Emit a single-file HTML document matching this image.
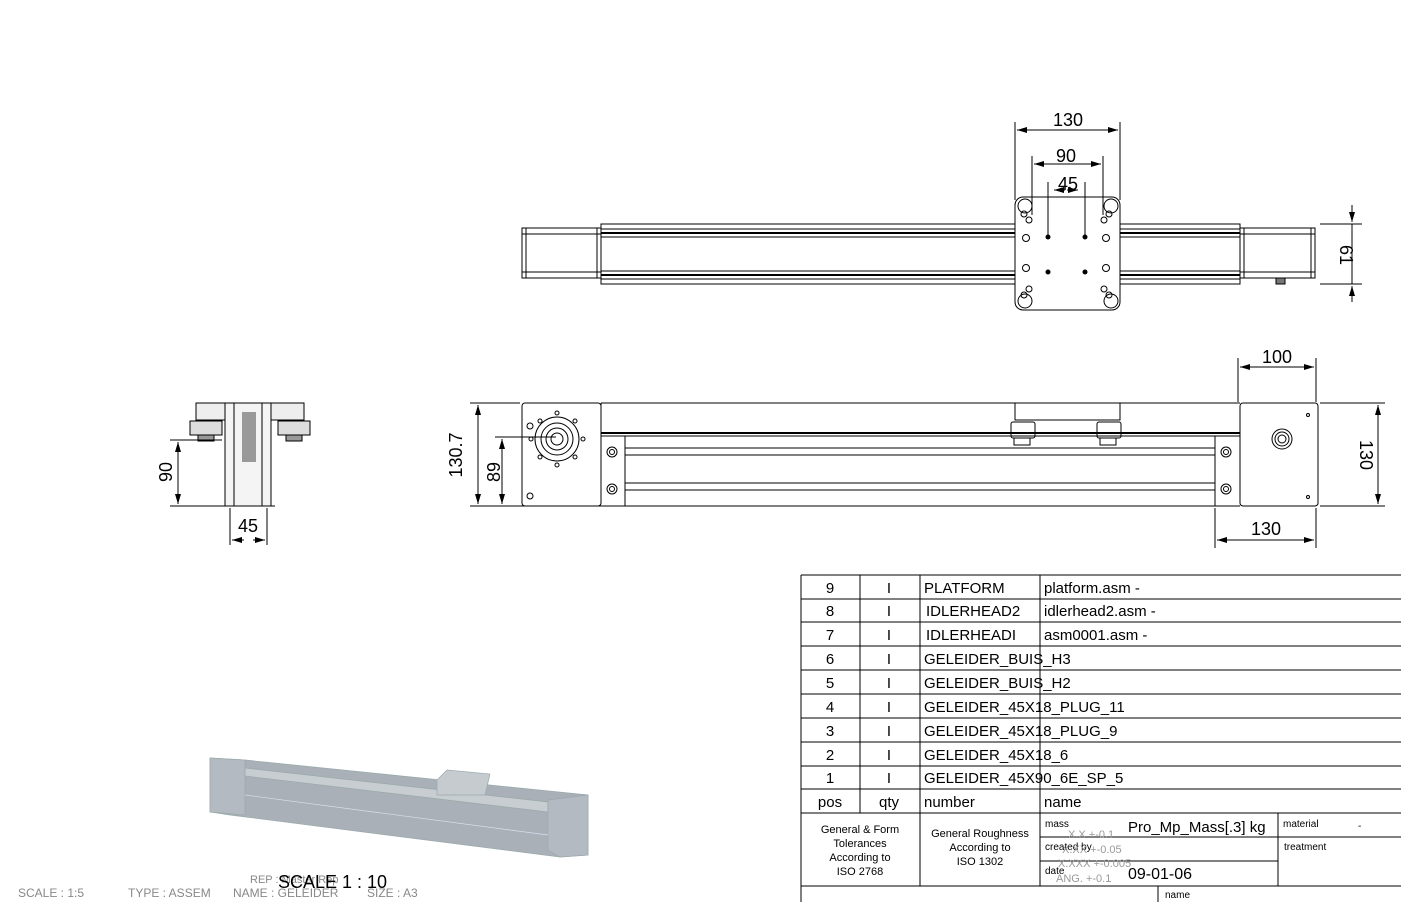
<!DOCTYPE html>
<html><head><meta charset="utf-8"><style>
html,body{margin:0;padding:0;background:#fff;}
svg{display:block;}
text{font-family:"Liberation Sans",sans-serif;}
</style></head><body>
<svg width="1401" height="902" viewBox="0 0 1401 902" xmlns="http://www.w3.org/2000/svg">
<defs>
<marker id="a" viewBox="0 0 10 6" refX="10" refY="3" markerWidth="10" markerHeight="6" orient="auto-start-reverse"><path d="M0,0 L10,3 L0,6z" fill="#000"/></marker>
</defs>
<g stroke="#000" fill="none" stroke-width="1">
<!-- TOP VIEW -->
<rect x="522" y="228" width="79" height="50"/>
<line x1="526" y1="228" x2="526" y2="278"/><line x1="597" y1="228" x2="597" y2="278"/>
<line x1="522" y1="234" x2="601" y2="234"/><line x1="522" y1="272" x2="601" y2="272"/>
<rect x="601" y="224" width="639" height="60"/>
<line x1="601" y1="229" x2="1240" y2="229"/><line x1="601" y1="233" x2="1240" y2="233" stroke-width="2"/>
<line x1="601" y1="237" x2="1240" y2="237"/>
<line x1="601" y1="271" x2="1240" y2="271"/><line x1="601" y1="275" x2="1240" y2="275" stroke-width="2"/>
<line x1="601" y1="279" x2="1240" y2="279"/>
<rect x="1240" y="228" width="75" height="50"/>
<line x1="1244" y1="228" x2="1244" y2="278"/><line x1="1311" y1="228" x2="1311" y2="278"/>
<line x1="1240" y1="234" x2="1315" y2="234"/><line x1="1240" y1="272" x2="1315" y2="272"/>
<rect x="1276" y="278" width="9" height="6" fill="#777"/>
<rect x="1015" y="197" width="105" height="113" fill="#fff" rx="8"/>
<circle cx="1025" cy="206" r="7"/><circle cx="1111" cy="206" r="7"/><circle cx="1025" cy="301" r="7"/><circle cx="1111" cy="301" r="7"/>
<g stroke-width="1">
<circle cx="1024" cy="214" r="3"/><circle cx="1029" cy="220" r="3"/><circle cx="1109" cy="214" r="3"/><circle cx="1104" cy="220" r="3"/>
<circle cx="1026" cy="238" r="3.5"/><circle cx="1106" cy="238" r="3.5"/><circle cx="1026" cy="268" r="3.5"/><circle cx="1106" cy="268" r="3.5"/>
<circle cx="1024" cy="295" r="3"/><circle cx="1029" cy="289" r="3"/><circle cx="1109" cy="295" r="3"/><circle cx="1104" cy="289" r="3"/>
</g>
<g fill="#000"><circle cx="1048" cy="237" r="2"/><circle cx="1085" cy="237" r="2"/><circle cx="1048" cy="272" r="2"/><circle cx="1085" cy="272" r="2"/></g>
<!-- top dims -->
<line x1="1015" y1="122" x2="1015" y2="200"/><line x1="1120" y1="122" x2="1120" y2="200"/>
<line x1="1017" y1="130" x2="1118" y2="130" marker-start="url(#a)" marker-end="url(#a)"/>
<line x1="1032" y1="156" x2="1032" y2="215"/><line x1="1103" y1="156" x2="1103" y2="215"/>
<line x1="1034" y1="164" x2="1101" y2="164" marker-start="url(#a)" marker-end="url(#a)"/>
<line x1="1048" y1="182" x2="1048" y2="235"/><line x1="1085" y1="182" x2="1085" y2="235"/>
<line x1="1055" y1="190" x2="1066" y2="190" marker-end="url(#a)" transform="rotate(180 1060 190)"/>
<line x1="1067" y1="190" x2="1078" y2="190" marker-end="url(#a)"/>
<line x1="1320" y1="224" x2="1362" y2="224"/><line x1="1320" y1="284" x2="1362" y2="284"/>
<line x1="1352" y1="205" x2="1352" y2="222" marker-end="url(#a)"/>
<line x1="1352" y1="302" x2="1352" y2="286" marker-end="url(#a)"/>
<line x1="1352" y1="224" x2="1352" y2="284"/>

<!-- FRONT VIEW -->
<rect x="522" y="403" width="79" height="103" rx="3"/>
<line x1="601" y1="403" x2="1240" y2="403"/>
<line x1="601" y1="433" x2="1240" y2="433" stroke-width="2"/>
<line x1="601" y1="436" x2="1240" y2="436"/>
<line x1="601" y1="403" x2="601" y2="436"/>
<rect x="625" y="436" width="590" height="70"/>
<line x1="625" y1="448" x2="1215" y2="448"/><line x1="625" y1="455" x2="1215" y2="455"/>
<line x1="625" y1="483" x2="1215" y2="483"/><line x1="625" y1="490" x2="1215" y2="490"/>
<line x1="601" y1="506" x2="625" y2="506"/>
<rect x="1240" y="403" width="78" height="103" rx="3"/>
<line x1="1215" y1="506" x2="1240" y2="506"/>
<rect x="1015" y="403" width="105" height="17"/>
<rect x="1011" y="422" width="24" height="16" rx="2"/><rect x="1014" y="438" width="16" height="7"/>
<rect x="1097" y="422" width="24" height="16" rx="2"/><rect x="1100" y="438" width="16" height="7"/>
<circle cx="557" cy="439" r="22"/><circle cx="557" cy="439" r="16"/><circle cx="557" cy="439" r="11"/><circle cx="557" cy="439" r="6"/>
<g><circle cx="557" cy="413" r="2"/><circle cx="557" cy="465" r="2"/><circle cx="531" cy="439" r="2"/><circle cx="583" cy="439" r="2"/>
<circle cx="540" cy="421" r="2"/><circle cx="575" cy="421" r="2"/><circle cx="540" cy="457" r="2"/><circle cx="575" cy="457" r="2"/>
<circle cx="530" cy="426" r="3"/><circle cx="530" cy="496" r="3"/></g>
<circle cx="612" cy="452" r="5"/><circle cx="612" cy="452" r="2.5"/><circle cx="612" cy="489" r="5"/><circle cx="612" cy="489" r="2.5"/>
<circle cx="1226" cy="452" r="5"/><circle cx="1226" cy="452" r="2.5"/><circle cx="1226" cy="489" r="5"/><circle cx="1226" cy="489" r="2.5"/>
<circle cx="1282" cy="439" r="10"/><circle cx="1282" cy="439" r="7"/><circle cx="1282" cy="439" r="4"/>
<circle cx="1308" cy="415" r="1.5"/><circle cx="1308" cy="497" r="1.5"/>
<!-- front dims -->
<line x1="470" y1="403" x2="520" y2="403"/><line x1="470" y1="506" x2="1215" y2="506"/>
<line x1="478" y1="405" x2="478" y2="504" marker-start="url(#a)" marker-end="url(#a)"/>
<line x1="495" y1="437" x2="556" y2="437"/>
<line x1="502" y1="439" x2="502" y2="504" marker-start="url(#a)" marker-end="url(#a)"/>
<line x1="1320" y1="403" x2="1385" y2="403"/><line x1="1320" y1="506" x2="1385" y2="506"/>
<line x1="1378" y1="405" x2="1378" y2="504" marker-start="url(#a)" marker-end="url(#a)"/>
<line x1="1238" y1="358" x2="1238" y2="402"/><line x1="1316" y1="358" x2="1316" y2="402"/>
<line x1="1240" y1="367" x2="1314" y2="367" marker-start="url(#a)" marker-end="url(#a)"/>
<line x1="1215" y1="508" x2="1215" y2="548"/><line x1="1316" y1="508" x2="1316" y2="548"/>
<line x1="1217" y1="540" x2="1314" y2="540" marker-start="url(#a)" marker-end="url(#a)"/>

<!-- SIDE VIEW -->
<rect x="196" y="403" width="38" height="17" fill="#eee"/><rect x="266" y="403" width="38" height="17" fill="#eee"/>
<rect x="190" y="421" width="32" height="14" fill="#ddd"/><rect x="278" y="421" width="32" height="14" fill="#ddd"/>
<rect x="198" y="435" width="16" height="6" fill="#999"/><rect x="286" y="435" width="16" height="6" fill="#999"/>
<rect x="225" y="403" width="46" height="103" fill="#f4f4f4"/>
<rect x="234" y="403" width="28" height="103"/>
<rect x="242" y="412" width="14" height="50" fill="#999" stroke="none"/>
<line x1="170" y1="440" x2="222" y2="440"/><line x1="170" y1="506" x2="275" y2="506"/>
<line x1="178" y1="442" x2="178" y2="504" marker-start="url(#a)" marker-end="url(#a)"/>
<line x1="230" y1="508" x2="230" y2="545"/><line x1="267" y1="508" x2="267" y2="545"/>
<line x1="232" y1="540" x2="244" y2="540" marker-start="url(#a)"/>
<line x1="253" y1="540" x2="265" y2="540" marker-end="url(#a)"/>
</g>
<g font-size="18" fill="#000" text-anchor="middle" style="font-family:'DejaVu Sans Condensed','Liberation Sans',sans-serif" font-weight="300">
<text x="1068" y="126">130</text>
<text x="1066" y="162">90</text>
<text x="1068" y="190">45</text>
<text transform="translate(1340 255) rotate(90)">61</text>
<text x="1277" y="363">100</text>
<text x="1266" y="535">130</text>
<text transform="translate(1360 455) rotate(90)">130</text>
<text transform="translate(462 455) rotate(-90)">130.7</text>
<text transform="translate(500 472) rotate(-90)">89</text>
<text transform="translate(172 472) rotate(-90)">90</text>
<text x="248" y="532">45</text>
</g>

<!-- 3D VIEW -->
<g stroke="#9aa" stroke-width="0.7">
<polygon points="210,758 245,760 588,795 588,855 560,857 230,815 210,812" fill="#a9b0b8"/>
<polygon points="245,768 548,802 548,812 245,776" fill="#c8cdd2"/>
<polygon points="210,758 245,760 245,815 210,812" fill="#b4bac1"/>
<polygon points="548,800 588,795 588,855 560,857 548,850" fill="#b4bac1"/>
<polygon points="437,780 447,770 490,774 485,795 437,795" fill="#c6cbd0"/>
<line x1="245" y1="795" x2="548" y2="835" stroke="#dde"/>
</g>

<!-- TABLE -->
<g stroke="#000" stroke-width="1" fill="none">
<line x1="801" y1="575" x2="1401" y2="575"/>
<line x1="801" y1="575" x2="801" y2="902"/>
<line x1="860" y1="575" x2="860" y2="813"/>
<line x1="920" y1="575" x2="920" y2="886"/>
<line x1="1040" y1="575" x2="1040" y2="886"/>
<line x1="801" y1="599" x2="1401" y2="599"/>
<line x1="801" y1="622" x2="1401" y2="622"/>
<line x1="801" y1="646" x2="1401" y2="646"/>
<line x1="801" y1="670" x2="1401" y2="670"/>
<line x1="801" y1="694" x2="1401" y2="694"/>
<line x1="801" y1="718" x2="1401" y2="718"/>
<line x1="801" y1="742" x2="1401" y2="742"/>
<line x1="801" y1="766" x2="1401" y2="766"/>
<line x1="801" y1="789" x2="1401" y2="789"/>
<line x1="801" y1="813" x2="1401" y2="813"/>
<line x1="1040" y1="837" x2="1278" y2="837"/>
<line x1="1040" y1="861" x2="1278" y2="861"/>
<line x1="1278" y1="813" x2="1278" y2="886"/>
<line x1="1278" y1="837" x2="1401" y2="837"/>
<line x1="801" y1="886" x2="1401" y2="886"/>
<line x1="1158" y1="886" x2="1158" y2="902"/>
</g>
<g font-size="15" fill="#000">
<g text-anchor="middle"><text x="830" y="593">9</text><text x="830" y="616">8</text><text x="830" y="640">7</text><text x="830" y="664">6</text><text x="830" y="688">5</text><text x="830" y="712">4</text><text x="830" y="736">3</text><text x="830" y="760">2</text><text x="830" y="783">1</text><text x="830" y="807">pos</text>
<text x="889" y="593">I</text><text x="889" y="616">I</text><text x="889" y="640">I</text><text x="889" y="664">I</text><text x="889" y="688">I</text><text x="889" y="712">I</text><text x="889" y="736">I</text><text x="889" y="760">I</text><text x="889" y="783">I</text><text x="889" y="807">qty</text></g>
<text x="924" y="593">PLATFORM</text><text x="1044" y="593">platform.asm -</text>
<text x="926" y="616">IDLERHEAD2</text><text x="1044" y="616">idlerhead2.asm -</text>
<text x="926" y="640">IDLERHEADI</text><text x="1044" y="640">asm0001.asm -</text>
<text x="924" y="664">GELEIDER_BUIS_H3</text>
<text x="924" y="688">GELEIDER_BUIS_H2</text>
<text x="924" y="712">GELEIDER_45X18_PLUG_11</text>
<text x="924" y="736">GELEIDER_45X18_PLUG_9</text>
<text x="924" y="760">GELEIDER_45X18_6</text>
<text x="924" y="783">GELEIDER_45X90_6E_SP_5</text>
<text x="924" y="807">number</text><text x="1044" y="807">name</text>
</g>
<g font-size="11" fill="#000" text-anchor="middle">
<text x="860" y="833">General &amp; Form</text><text x="860" y="847">Tolerances</text><text x="860" y="861">According to</text><text x="860" y="875">ISO 2768</text>
<text x="980" y="837">General Roughness</text><text x="980" y="851">According to</text><text x="980" y="865">ISO 1302</text>
</g>
<g font-size="10" fill="#000">
<text x="1045" y="827">mass</text><text x="1045" y="850">created by</text><text x="1045" y="874">date</text>
<text x="1283" y="827">material</text><text x="1358" y="829">-</text><text x="1284" y="850">treatment</text>
<text x="1165" y="898">name</text>
</g>
<g font-size="11" fill="#999"><text x="1068" y="838">X.X  +-0.1</text><text x="1062" y="853">X.XX +-0.05</text><text x="1058" y="867">X.XXX +-0.005</text><text x="1056" y="882">ANG.  +-0.1</text></g>
<text x="1128" y="832" font-size="15" fill="#000">Pro_Mp_Mass[.3] kg</text>
<text x="1128" y="879" font-size="16" fill="#000">09-01-06</text>

<!-- bottom labels -->
<g font-size="12" fill="#888">
<text x="18" y="897">SCALE : 1:5</text><text x="128" y="897">TYPE : ASSEM</text><text x="233" y="897">NAME : GELEIDER</text><text x="367" y="897">SIZE : A3</text>
<text x="250" y="883" font-size="11">REP : Master Rep</text>
</g>
<text x="278" y="888" font-size="18" fill="#000">SCALE  1 : 10</text>
</svg>
</body></html>
